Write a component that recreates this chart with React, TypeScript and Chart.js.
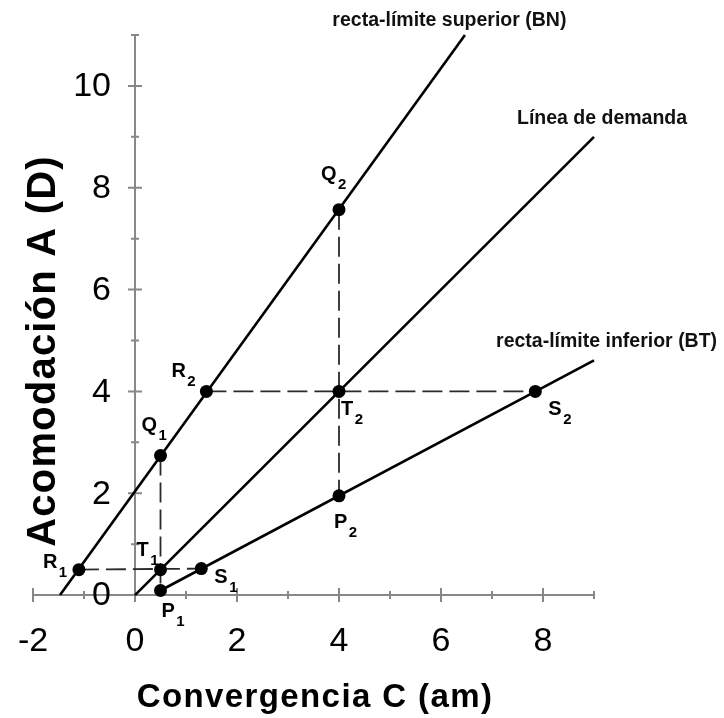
import React, { useEffect, useRef } from 'react';
import { Chart, registerables } from 'chart.js';

Chart.register(...registerables);

// ---- data ----
const upperLineX = [-1.47, 6.47];
const upperLineY = [0, 11];
const demandLineX = [0, 9];
const demandLineY = [0, 9];
const lowerLineX = [0.5, 9];
const lowerLineY = [0.09, 4.61];

const pointLetters = ['R', 'Q', 'R', 'Q', 'T', 'T', 'S', 'P', 'S', 'P'];
const pointSubs = ['1', '1', '2', '2', '1', '2', '1', '1', '2', '2'];
const pointX = [-1.1, 0.5, 1.4, 4, 0.5, 4, 1.3, 0.5, 7.85, 4];
const pointY = [0.5, 2.74, 4, 7.57, 0.5, 4, 0.52, 0.09, 4, 1.95];

const guideFrom = ['R1', 'Q1', 'R2', 'Q2'];
const guideTo = ['S1', 'P1', 'S2', 'P2'];

const xMajorTicks = [-2, 0, 2, 4, 6, 8];
const xMinorTicks = [-1, 1, 3, 5, 7, 9];
const yMajorTicks = [0, 2, 4, 6, 8, 10];
const yMinorTicks = [1, 3, 5, 7, 9, 11];
const xTickLabels = ['-2', '0', '2', '4', '6', '8'];
const yTickLabels = ['0', '2', '4', '6', '8', '10'];

const lineNames = ['recta-límite superior (BN)', 'Línea de demanda', 'recta-límite inferior (BT)'];
const lineNameX = [3.87, 7.49, 7.08];
const lineNameY = [11.17, 9.26, 4.88];

const xTitle = 'Convergencia C (am)';
const yTitle = 'Acomodación A (D)';

// ---- styles ----
const FONT = '"Liberation Sans", Arial, Helvetica, sans-serif';
const AXIS_COLOR = '#888888';
const labelOffsets: Record<string, [number, number]> = {
  R1: [-36, -2],
  Q1: [-19, -25],
  R2: [-35, -14],
  Q2: [-18, -30],
  T1: [-24, -14],
  T2: [2, 24],
  S1: [13, 14],
  P1: [1, 26],
  S2: [13, 24],
  P2: [-5, 32],
};

const pointKey = (i: number) => pointLetters[i] + pointSubs[i];
const findPoint = (key: string) => {
  const i = pointLetters.findIndex((_, k) => pointKey(k) === key);
  return { x: pointX[i], y: pointY[i] };
};

const axesPlugin = {
  id: 'crossAxes',
  beforeDatasetsDraw(chart: any) {
    const { ctx, scales } = chart;
    const x = scales.x;
    const y = scales.y;
    const x0 = x.getPixelForValue(0);
    const y0 = y.getPixelForValue(0);
    ctx.save();
    ctx.strokeStyle = AXIS_COLOR;
    ctx.lineWidth = 2;
    ctx.beginPath();
    ctx.moveTo(x.getPixelForValue(-2), y0);
    ctx.lineTo(x.getPixelForValue(9), y0);
    ctx.moveTo(x0, y0);
    ctx.lineTo(x0, y.getPixelForValue(11));
    xMajorTicks.forEach((v) => {
      const px = x.getPixelForValue(v);
      ctx.moveTo(px, y0 - 7);
      ctx.lineTo(px, y0 + 7);
    });
    xMinorTicks.forEach((v) => {
      const px = x.getPixelForValue(v);
      ctx.moveTo(px, y0 - 4);
      ctx.lineTo(px, y0 + 4);
    });
    yMajorTicks.forEach((v) => {
      const py = y.getPixelForValue(v);
      ctx.moveTo(x0 - 7, py);
      ctx.lineTo(x0 + 7, py);
    });
    yMinorTicks.forEach((v) => {
      const py = y.getPixelForValue(v);
      ctx.moveTo(x0 - 4, py);
      ctx.lineTo(x0 + 4, py);
    });
    ctx.stroke();

    ctx.fillStyle = '#000';
    ctx.font = `34px ${FONT}`;
    ctx.textAlign = 'center';
    ctx.textBaseline = 'alphabetic';
    xMajorTicks.forEach((v, i) => {
      ctx.fillText(xTickLabels[i], x.getPixelForValue(v), y0 + 56);
    });
    ctx.textAlign = 'right';
    ctx.textBaseline = 'middle';
    yMajorTicks.forEach((v, i) => {
      ctx.fillText(yTickLabels[i], x0 - 24, y.getPixelForValue(v) + 1);
    });

    // axis titles
    ctx.font = `bold 33px ${FONT}`;
    (ctx as any).letterSpacing = '1.4px';
    ctx.textAlign = 'center';
    ctx.textBaseline = 'alphabetic';
    ctx.fillText(xTitle, 315, 707);
    ctx.save();
    ctx.translate(55, 351);
    ctx.rotate(-Math.PI / 2);
    ctx.font = `bold 40px ${FONT}`;
    (ctx as any).letterSpacing = '1.2px';
    ctx.fillText(yTitle, 0, 0);
    ctx.restore();
    (ctx as any).letterSpacing = '0px';
    ctx.restore();
  },
  afterDatasetsDraw(chart: any) {
    const { ctx, scales } = chart;
    const x = scales.x;
    const y = scales.y;
    ctx.save();
    ctx.fillStyle = '#000';
    ctx.textAlign = 'left';
    ctx.textBaseline = 'alphabetic';
    pointLetters.forEach((letter, i) => {
      const key = pointKey(i);
      const [dx, dy] = labelOffsets[key] || [8, -8];
      const px = x.getPixelForValue(pointX[i]) + dx;
      const py = y.getPixelForValue(pointY[i]) + dy;
      ctx.font = `bold 20px ${FONT}`;
      ctx.fillText(letter, px, py);
      const w = ctx.measureText(letter).width;
      ctx.font = `bold 15px ${FONT}`;
      ctx.fillText(pointSubs[i], px + w + 1.5, py + 9);
    });
    ctx.font = `bold 19.5px ${FONT}`;
    ctx.fillStyle = '#111';
    lineNames.forEach((name, i) => {
      ctx.fillText(name, x.getPixelForValue(lineNameX[i]), y.getPixelForValue(lineNameY[i]));
    });
    ctx.restore();
  },
};

export default function App() {
  const ref = useRef<HTMLCanvasElement | null>(null);

  useEffect(() => {
    if (!ref.current) return;
    const solid = (xs: number[], ys: number[]) => ({
      data: xs.map((v, i) => ({ x: v, y: ys[i] })),
      showLine: true,
      borderColor: '#000',
      borderWidth: 2.6,
      pointRadius: 0,
      fill: false,
      clip: false as any,
      order: 2,
    });
    const guides = guideFrom.map((from, i) => {
      const a = findPoint(from);
      const b = findPoint(guideTo[i]);
      return {
        data: [a, b],
        showLine: true,
        borderColor: '#2a2a2a',
        borderWidth: 1.8,
        borderDash: [20, 7],
        pointRadius: 0,
        fill: false,
        clip: false as any,
        order: 3,
      };
    });
    const points = {
      data: pointX.map((v, i) => ({ x: v, y: pointY[i] })),
      showLine: false,
      pointRadius: 6.5,
      pointBackgroundColor: '#000',
      pointBorderColor: '#000',
      pointBorderWidth: 0,
      clip: false as any,
      order: 1,
    };
    const chart = new Chart(ref.current, {
      type: 'scatter',
      data: {
        datasets: [
          ...guides,
          solid(upperLineX, upperLineY),
          solid(demandLineX, demandLineY),
          solid(lowerLineX, lowerLineY),
          points,
        ] as any,
      },
      options: {
        animation: false,
        responsive: true,
        maintainAspectRatio: false,
        layout: { padding: { left: 33, right: 130, top: 35, bottom: 72 } },
        scales: {
          x: { type: 'linear', min: -2, max: 9, display: false },
          y: { type: 'linear', min: -1, max: 11, display: false },
        },
        plugins: {
          legend: { display: false },
          tooltip: { enabled: false },
        },
        events: [],
      },
      plugins: [axesPlugin],
    });
    return () => chart.destroy();
  }, []);

  return (
    <div style={{ position: 'absolute', left: 0, top: 0, width: 724, height: 718, background: '#fff' }}>
      <canvas ref={ref} />
    </div>
  );
}
